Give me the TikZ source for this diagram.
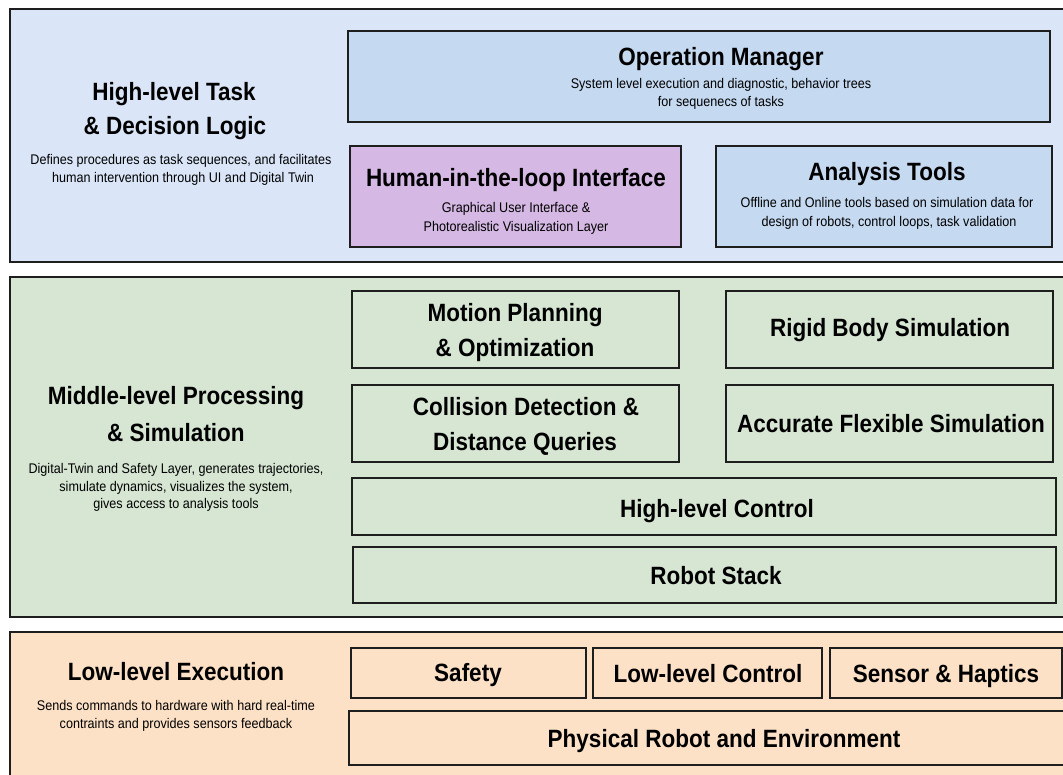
\documentclass[tikz,border=0pt]{standalone}
\usepackage{fontspec}
\setmainfont[FakeStretch=0.9]{Liberation Sans}
\definecolor{edge}{HTML}{1E1E1E}
\definecolor{topfill}{HTML}{DAE6F8}
\definecolor{bluebox}{HTML}{C5D9F1}
\definecolor{purplebox}{HTML}{D5B9E4}
\definecolor{midfill}{HTML}{D6E6D3}
\definecolor{lowfill}{HTML}{FCE1C6}
\begin{document}
\begin{tikzpicture}[x=1pt,y=-1pt,
  panel/.style={draw=edge,line width=1.6pt,inner sep=0pt,outer sep=0pt},
  box/.style={draw=edge,line width=1.6pt,inner sep=0pt,outer sep=0pt},
  ttl/.style={anchor=base,inner sep=0pt,font=\fontsize{25}{30}\selectfont\bfseries},
  dsc/.style={anchor=base,inner sep=0pt,font=\fontsize{14}{18}\selectfont}]
\useasboundingbox[fill=white] (0,0) rectangle (1063,775);
% panels
\node[panel,fill=topfill,minimum width=1065pt,minimum height=253pt] (ptop) at (542.5,135.5) {};
\node[panel,fill=midfill,minimum width=1065pt,minimum height=340pt] (pmid) at (542.5,447) {};
\node[panel,fill=lowfill,minimum width=1065pt,minimum height=158pt] (plow) at (542.5,711) {};
% top level
\node[ttl] (t1a) at (174,101) {High-level Task};
\node[ttl] (t1b) at (175,135) {\& Decision Logic};
\node[dsc] (d1a) at (181,165) {Defines procedures as task sequences, and facilitates};
\node[dsc] (d1b) at (183,183) {human intervention through UI and Digital Twin};
\node[box,fill=bluebox,minimum width=702pt,minimum height=91pt] (om) at (699,76.5) {};
\node[ttl] (omt) at (721,66) {Operation Manager};
\node[dsc] (omd1) at (721,89) {System level execution and diagnostic, behavior trees};
\node[dsc] (omd2) at (721,107) {for sequenecs of tasks};
\node[box,fill=purplebox,minimum width=331pt,minimum height=101pt] (hil) at (515.5,196.5) {};
\node[ttl] (hilt) at (516,187) {Human-in-the-loop Interface};
\node[dsc] (hild1) at (516,213) {Graphical User Interface \&};
\node[dsc] (hild2) at (516,232) {Photorealistic Visualization Layer};
\node[box,fill=bluebox,minimum width=336pt,minimum height=101pt] (at) at (884,196.5) {};
\node[ttl] (att) at (887,181) {Analysis Tools};
\node[dsc] (atd1) at (887,208) {Offline and Online tools based on simulation data for};
\node[dsc] (atd2) at (889,227) {design of robots, control loops, task validation};
% middle level
\node[ttl] (t2a) at (176,405) {Middle-level Processing};
\node[ttl] (t2b) at (176,441) {\& Simulation};
\node[dsc] (d2a) at (176,473) {Digital-Twin and Safety Layer, generates trajectories,};
\node[dsc] (d2b) at (176,491) {simulate dynamics, visualizes the system,};
\node[dsc] (d2c) at (176,508) {gives access to analysis tools};
\node[box,minimum width=327pt,minimum height=77pt] (mp) at (515.5,329.5) {};
\node[ttl] (mpa) at (515,322) {Motion Planning};
\node[ttl] (mpb) at (515,357) {\& Optimization};
\node[box,minimum width=327pt,minimum height=77pt] (rb) at (889.5,329.5) {};
\node[ttl] (rbt) at (890,337) {Rigid Body Simulation};
\node[box,minimum width=327pt,minimum height=77pt] (cd) at (515.5,423.5) {};
\node[ttl] (cda) at (526,416) {Collision Detection \&};
\node[ttl] (cdb) at (525,450) {Distance Queries};
\node[box,minimum width=327pt,minimum height=77pt] (af) at (889.5,423.5) {};
\node[ttl] (aft) at (891,432) {Accurate Flexible Simulation};
\node[box,minimum width=704pt,minimum height=57pt] (hlc) at (704,506.5) {};
\node[ttl] (hlct) at (717,517) {High-level Control};
\node[box,minimum width=703pt,minimum height=56pt] (rs) at (704.5,575) {};
\node[ttl] (rst) at (716,584) {Robot Stack};
% low level
\node[ttl] (t3) at (176,680) {Low-level Execution};
\node[dsc] (d3a) at (176,710) {Sends commands to hardware with hard real-time};
\node[dsc] (d3b) at (176,728) {contraints and provides sensors feedback};
\node[box,minimum width=235pt,minimum height=50pt] (sf) at (468.5,673) {};
\node[ttl] (sft) at (468,681) {Safety};
\node[box,minimum width=229pt,minimum height=50pt] (llc) at (707.5,673) {};
\node[ttl] (llct) at (708,682) {Low-level Control};
\node[box,minimum width=232pt,minimum height=50pt] (sh) at (946,673) {};
\node[ttl] (sht) at (946,682) {Sensor \& Haptics};
\node[box,minimum width=726pt,minimum height=54pt] (pr) at (712,738) {};
\node[ttl] (prt) at (724,747) {Physical Robot and Environment};
\end{tikzpicture}
\end{document}
